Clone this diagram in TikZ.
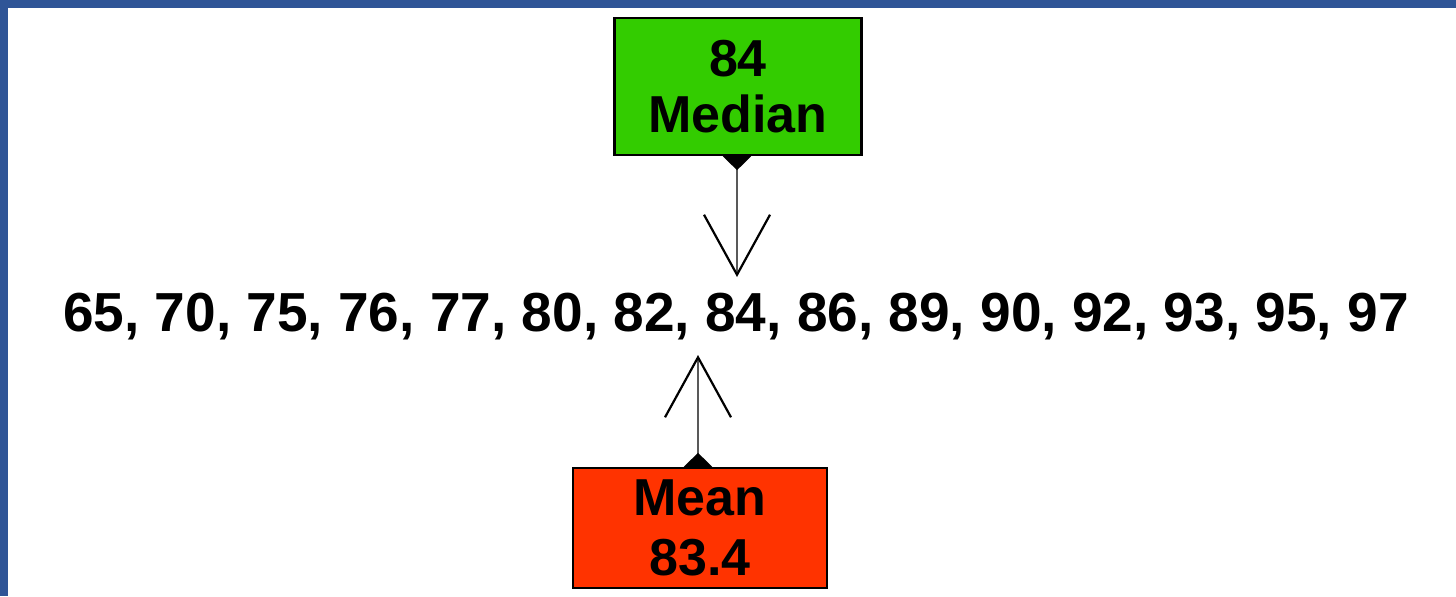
\documentclass[tikz,border=0pt]{standalone}
\usepackage{fontspec}
\setmainfont{Liberation Sans}
\usetikzlibrary{arrows.meta}
\tikzset{>={Straight Barb[length=30pt,width=33pt,line width=1.1pt,color=black]}}
\definecolor{frameblue}{HTML}{2F5597}
\definecolor{medgreen}{HTML}{33CC00}
\definecolor{meanred}{HTML}{FF3300}

\begin{document}
\begin{tikzpicture}[x=0.5pt, y=-0.5pt,
  box/.style={draw, line width=1.2pt, inner sep=0pt, align=center,
    font=\fontsize{26}{28}\selectfont\bfseries},
  pointer/.style={{Triangle[reversed,width=14pt,length=7pt,color=black]}->, draw=black!65, line width=0.8pt}]

  \useasboundingbox (0,0) rectangle (1456,596);
  \fill[white] (0,0) rectangle (1456,596);
  \fill[frameblue] (0,0) rectangle (1456,8); %% top edge
  \fill[frameblue] (0,0) rectangle (8,596);  %% left edge

  \node[font=\fontsize{27.5}{30}\selectfont\bfseries] (scores) at (736,317)
    {65, 70, 75, 76, 77, 80, 82, 84, 86, 89, 90, 92, 93, 95, 97};

  \node[box, fill=medgreen, minimum width=123.5pt, minimum height=68.5pt] (median) at (738,86.5) {84\\Median};
  \node[box, fill=meanred, minimum width=127pt, minimum height=60pt,
    font=\fontsize{26}{30}\selectfont\bfseries] (mean) at (700,528) {Mean\\83.4};

  \coordinate (medtip) at (737,277);
  \coordinate (meantip) at (698,355);

  \draw[pointer] (median.south -| medtip) -- (medtip); %% median -> 84
  \draw[pointer] (mean.north -| meantip) -- (meantip); %% mean -> between 82 and 84

\end{tikzpicture}
\end{document}
